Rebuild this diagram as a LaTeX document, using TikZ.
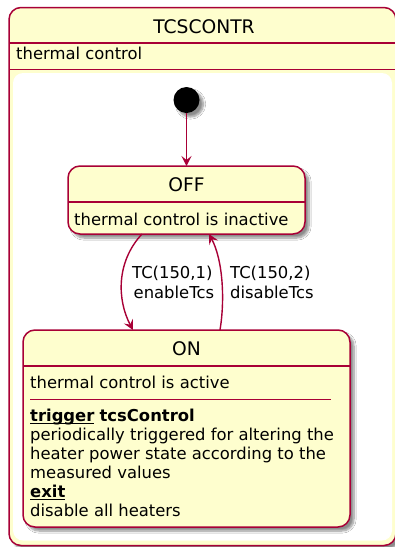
\documentclass[tikz,border=0pt]{standalone}
\usepackage{fontspec}
\setmainfont{DejaVu Sans}
\usetikzlibrary{arrows.meta,shadows.blur}
\definecolor{umlfill}{HTML}{FEFECE}
\definecolor{umlline}{HTML}{A80036}
% bold keyword with an underline at a fixed depth
\newcommand{\kwul}[1]{\setbox0\hbox{\bfseries #1}\rlap{\rule[-2.6pt]{\wd0}{1.1pt}}\box0\relax}

\begin{document}
\begin{tikzpicture}[x=1pt,y=-1pt,
  shade/.style={blur shadow={shadow xshift=4pt,shadow yshift=-4pt,shadow blur steps=8,shadow opacity=45}},
  statebox/.style={draw=umlline,line width=1.5pt,fill=umlfill,rounded corners=12pt,
    inner sep=0pt,outer sep=0pt,anchor=north west,shade},
  titletxt/.style={font=\fontsize{18.7}{22}\selectfont,inner sep=0pt,anchor=base},
  bodytxt/.style={font=\fontsize{16.4}{19}\selectfont,inner sep=0pt,anchor=base west},
  divider/.style={draw=umlline,line width=1.5pt},
  conn/.style={draw=umlline,line width=1.4pt,-{Stealth[length=10pt,width=10pt,inset=4pt]}}
]
\useasboundingbox (0,0) rectangle (395,547);

% composite state TCSCONTR
\node[statebox,minimum width=387pt,minimum height=538pt] (tcs) at (9,7.5) {};
\draw[divider] (9,43) -- (396,43);
\draw[divider] (9,69.5) -- (396,69.5);
\fill[white,rounded corners=10pt] (13,73) rectangle (392,540.5);
\node[titletxt] (tcstitle) at (204,33.3) {TCSCONTR};
\node[bodytxt] (tcsdesc) at (16,59.3) {thermal control};

% initial pseudo state
\node[circle,fill=black,minimum size=26pt,inner sep=0pt,shade] (init) at (186.5,100) {};

% state OFF
\node[statebox,minimum width=237pt,minimum height=68pt] (off) at (68,166) {};
\draw[divider] (68,202) -- (305,202);
\node[titletxt] (offtitle) at (186.5,191.7) {OFF};
\node[bodytxt] (offdesc) at (74,225) {thermal control is inactive};

% state ON
\node[statebox,minimum width=327pt,minimum height=197pt] (on) at (23,330) {};
\draw[divider] (23,366) -- (350,366);
\draw[draw=umlline,line width=1pt] (30,399) -- (330.5,399);
\node[titletxt] (ontitle) at (186.5,355) {ON};
\node[bodytxt] (ona) at (30,388) {thermal control is active};
\node[bodytxt] (onb) at (30,421) {\kwul{trigger} \textbf{tcsControl}};
\node[bodytxt] (onc) at (30,440) {periodically triggered for altering the};
\node[bodytxt] (ond) at (30,459) {heater power state according to the};
\node[bodytxt] (one) at (30,478) {measured values};
\node[bodytxt] (onf) at (30,497) {\kwul{exit}};
\node[bodytxt] (ong) at (30,516) {disable all heaters};

% transitions
\draw[conn] (init) -- (off);
\draw[conn] (142,0 |- off.south) .. controls (116,262) and (117,300) .. (133,0 |- on.north);
\draw[conn] (220,0 |- on.north) .. controls (225,300) and (223,260) .. (209,0 |- off.south);

% transition labels
\node[bodytxt] (la1) at (132,278) {TC(150,1)};
\node[bodytxt] (la2) at (133.5,298) {enableTcs};
\node[bodytxt] (lb1) at (230,278) {TC(150,2)};
\node[bodytxt] (lb2) at (230,298) {disableTcs};
\end{tikzpicture}
\end{document}
